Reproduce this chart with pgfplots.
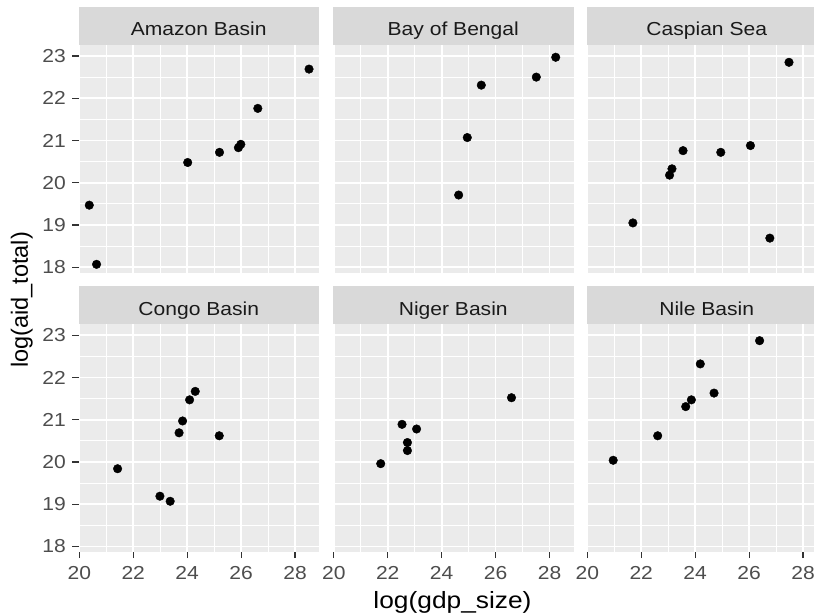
\documentclass[border=0pt]{standalone}
\usepackage{fontspec}
\setmainfont{Liberation Sans}[FakeStretch=1.12]
\newfontfamily\yfont{Liberation Sans}
\usepackage{pgfplots}
\pgfplotsset{compat=1.18}
\definecolor{panelbg}{HTML}{EBEBEB}
\definecolor{stripbg}{HTML}{D9D9D9}
\definecolor{ticktext}{HTML}{4D4D4D}
\definecolor{tickmark}{HTML}{333333}
\definecolor{striptext}{HTML}{1A1A1A}
\pgfplotsset{
 facet/.style={
  scale only axis, width=240.5pt, height=228pt,
  xmin=19.97, xmax=28.89, ymin=17.865, ymax=23.26,
  axis background/.style={fill=panelbg},
  axis line style={draw=none},
  xtick={20,22,24,26,28}, ytick={18,19,20,21,22,23},
  minor xtick={21,23,25,27}, minor ytick={18.5,19.5,20.5,21.5,22.5},
  grid=both,
  major grid style={white, line width=1.8pt},
  minor grid style={white, line width=0.9pt},
  tick align=outside, major tick length=6pt, minor tick length=0pt,
  every tick/.style={tickmark, line width=1.1pt},
  xtick pos=left, ytick pos=left,
  /pgf/number format/assume math mode=true,
  ticklabel style={font=\fontsize{18.8}{20}\selectfont, text=ticktext, inner sep=0pt},
  xticklabel style={yshift=-8pt},
  yticklabel style={xshift=-6.5pt},
  clip=false,
 },
 noxt/.style={xticklabels={}, xmajorticks=false},
 noyt/.style={yticklabels={}, ymajorticks=false},
 pts/.style={only marks, mark=*, mark size=4.3pt, black},
}
\newcommand\strip[3]{%
  \fill[stripbg] (#1pt,#2pt) rectangle ({#1pt+240.5pt},{#2pt+38pt});
  \node[anchor=base, text=striptext, font=\fontsize{18.8}{20}\selectfont, inner sep=0pt] at ({#1pt+120.25pt},{#2pt+9pt}) {#3};}
\begin{document}
\begin{tikzpicture}
\begin{axis}[facet, noxt, at={(78.5pt,342pt)}, anchor=south west]
\addplot[pts] coordinates {(20.37,19.47) (20.64,18.07) (24.02,20.48) (25.20,20.72) (25.90,20.83) (25.99,20.91) (26.62,21.76) (28.52,22.69)};
\end{axis}
\begin{axis}[facet, noxt, noyt, at={(333pt,342pt)}, anchor=south west]
\addplot[pts] coordinates {(28.23,22.97) (27.51,22.50) (25.47,22.31) (24.95,21.07) (24.63,19.71)};
\end{axis}
\begin{axis}[facet, noxt, noyt, at={(586.5pt,342pt)}, anchor=south west]
\addplot[pts] coordinates {(27.48,22.85) (26.05,20.88) (24.95,20.72) (23.55,20.76) (23.14,20.33) (23.05,20.18) (21.69,19.05) (26.77,18.69)};
\end{axis}
\begin{axis}[facet, at={(78.5pt,62.8pt)}, anchor=south west]
\addplot[pts] coordinates {(21.42,19.84) (22.99,19.19) (23.37,19.07) (23.70,20.69) (23.83,20.97) (24.09,21.47) (24.30,21.67) (25.19,20.62)};
\end{axis}
\begin{axis}[facet, noyt, at={(333pt,62.8pt)}, anchor=south west]
\addplot[pts] coordinates {(21.74,19.96) (22.53,20.89) (23.07,20.78) (22.73,20.46) (22.73,20.27) (26.59,21.52)};
\end{axis}
\begin{axis}[facet, noyt, at={(586.5pt,62.8pt)}, anchor=south west]
\addplot[pts] coordinates {(26.39,22.87) (24.19,22.32) (24.70,21.63) (23.86,21.47) (23.65,21.31) (22.61,20.62) (20.96,20.04)};
\end{axis}
\strip{78.5}{570}{Amazon Basin}
\strip{333}{570}{Bay of Bengal}
\strip{586.5}{570}{Caspian Sea}
\strip{78.5}{290.8}{Congo Basin}
\strip{333}{290.8}{Niger Basin}
\strip{586.5}{290.8}{Nile Basin}
\node[anchor=base, inner sep=0pt, font=\fontsize{23.5}{26}\selectfont] at (452.5pt,6pt) {log(gdp\_size)};
\node[rotate=90, inner sep=0pt, font=\yfont\fontsize{23.5}{26}\selectfont] at (21.7pt,315pt) {log(aid\_total)};
\pgfresetboundingbox
\useasboundingbox (0pt,0pt) rectangle (814pt,615pt);
\end{tikzpicture}
\end{document}
